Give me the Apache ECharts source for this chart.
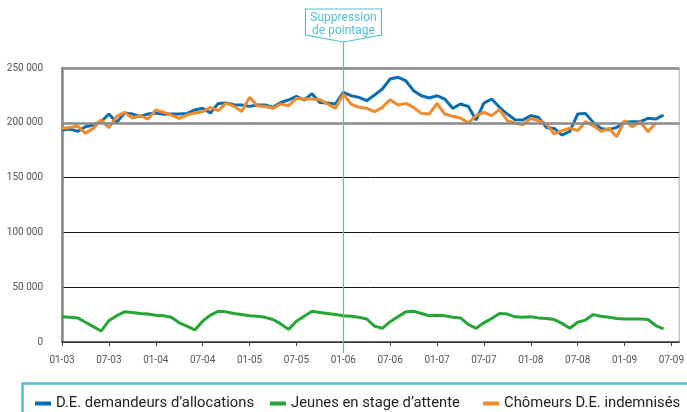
<!DOCTYPE html>
<html><head><meta charset="utf-8">
<script src="https://cdn.jsdelivr.net/npm/echarts@6/dist/echarts.min.js"></script>
<style>html,body{margin:0;padding:0;background:#fff}#c{width:687px;height:412px}</style>
</head><body><div id="c"></div>
<script>
// Months 01-03 .. 08-09 (MM-YY)
const months = [];
for (let y = 3; y <= 9; y++) {
  for (let m = 1; m <= 12; m++) {
    if (y === 9 && m > 8) break;
    months.push(String(m).padStart(2, '0') + '-0' + y);
  }
}
const seriesNames = ['D.E. demandeurs d’allocations', 'Jeunes en stage d’attente', 'Chômeurs D.E. indemnisés'];
const demandeurs = [
  193400,194300,192200,196400,198000,201000,208000,200400,208900,208000,205900,208000,
  208900,207700,208000,208000,208600,211700,213200,208900,217700,218000,216500,216200,
  215000,216200,216200,214100,218600,220800,224100,220800,226600,218600,218000,217100,
  227800,224700,223200,220200,225300,230800,240000,241500,238400,229300,224700,222600,
  224700,221700,213200,217100,215000,202500,218000,221700,214100,208000,202800,202500,
  206500,205000,195800,194900,188800,192200,208000,208600,200400,194900,193700,195800,
  200400,201000,201000,204100,203400,207100
];
const jeunes = [
  23000,22500,22000,18000,14000,10000,19500,24000,27500,27000,26000,25500,
  24500,24000,22500,17500,14500,11000,19000,24500,28000,27500,26000,25000,
  24000,23500,22500,20500,16500,11500,19000,23500,28000,27000,26000,25000,
  24000,23500,22500,21000,14500,12500,18500,23000,27500,28000,26000,24000,
  24500,24000,22500,22000,16000,12500,17500,21500,26000,25500,23000,22500,
  23000,22000,21500,20500,17000,12500,18000,20000,25000,23500,22500,21500,
  21000,21000,21000,20500,15000,12000
];
const chomeurs = [
  194900,195800,197100,190400,194900,202800,195500,205900,209500,204400,206500,203400,
  211700,209500,207100,204100,207100,208900,210100,214100,211000,218000,215000,210400,
  223200,215600,214800,213200,217100,215600,222300,221700,221700,221100,217100,213200,
  226200,217100,214100,213200,210100,214100,221100,216200,217700,214100,208600,208000,
  217700,208000,205900,204400,199800,206500,209500,206500,212000,201900,199800,198300,
  204100,201900,198900,189800,192800,195200,192800,201000,197400,192200,194900,187300,
  201900,196500,201000,191900,199800
];
const yTicks = [0, 50000, 100000, 150000, 200000, 250000];
const eventMonth = '01-06';
const eventLabel = 'Suppression\nde pointage';

const colors = ['#0a6db3', '#25a534', '#f08a2b'];
const cyan = '#4fbfd4';
const FONT = "Roboto, 'Liberation Sans', sans-serif";
const fmt = v => String(v).replace(/\B(?=(\d{3})+(?!\d))/g, ' ');

const chart = echarts.init(document.getElementById('c'), null, {renderer: 'canvas'});
const legendPos = [35, 270, 483];
chart.setOption({
  animation: false,
  textStyle: {fontFamily: FONT},
  grid: {left: 62, right: 4, top: 68, bottom: 70, show: true, borderColor: '#a8a8a8', borderWidth: 1},
  legend: seriesNames.map((n, i) => ({
    data: [n], left: legendPos[i], top: 396, itemWidth: 16, itemHeight: 4, icon: 'rect',
    itemGap: 5, textStyle: {fontFamily: FONT, fontSize: 14.8, color: '#222'},
    padding: 0
  })),
  xAxis: {
    type: 'category', data: months, boundaryGap: false,
    axisLine: {lineStyle: {color: '#444', width: 1.5}},
    axisTick: {interval: 5, length: 4, lineStyle: {color: '#444', width: 1}},
    axisLabel: {interval: 5, color: '#555', fontSize: 10, margin: 13, fontFamily: FONT},
    splitLine: {show: false}
  },
  yAxis: {
    type: 'value', min: yTicks[0], max: yTicks[yTicks.length - 1], interval: yTicks[1] - yTicks[0],
    axisLine: {show: true, lineStyle: {color: '#858585', width: 2.5}},
    axisTick: {show: false},
    axisLabel: {color: '#555', fontSize: 10, margin: 19, formatter: fmt, fontFamily: FONT},
    splitLine: {lineStyle: {color: '#111', width: 1}}
  },
  series: [
    {name: '_ref', type: 'line', data: [], z: 1, silent: true,
     markLine: {symbol: 'none', silent: true, label: {show: false},
       lineStyle: {color: '#8a8a8a', width: 2.5, type: 'solid'},
       data: [{yAxis: 200000}, {yAxis: 250000}]}},
    {name: seriesNames[0], type: 'line', data: demandeurs, showSymbol: false, z: 3,
     lineStyle: {color: colors[0], width: 3}, itemStyle: {color: colors[0]}},
    {name: seriesNames[1], type: 'line', data: jeunes, showSymbol: false, z: 3,
     lineStyle: {color: colors[1], width: 3}, itemStyle: {color: colors[1]}},
    {name: seriesNames[2], type: 'line', data: chomeurs, showSymbol: false, z: 4,
     lineStyle: {color: colors[2], width: 3}, itemStyle: {color: colors[2]}}
  ]
});

const ex = Math.round(chart.convertToPixel({xAxisIndex: 0}, eventMonth)) + 0.5;
chart.setOption({
  graphic: [
    {type: 'line', shape: {x1: ex, y1: 42, x2: ex, y2: 353}, style: {stroke: cyan, lineWidth: 1.2}, z: 10},
    {type: 'polygon', shape: {points: [[ex - 38, 9], [ex + 38, 9], [ex + 38, 35], [ex, 42], [ex - 38, 35]]},
     style: {fill: '#fff', stroke: cyan, lineWidth: 1.2}, z: 10},
    {type: 'text', x: ex, y: 12, z: 11,
     style: {text: eventLabel, fill: cyan, fontSize: 12, lineHeight: 12.5, align: 'center', verticalAlign: 'top', fontFamily: FONT}},
    {type: 'rect', shape: {x: 22.5, y: 383.5, width: 700, height: 60},
     style: {fill: 'none', stroke: cyan, lineWidth: 2.5}, z: 0}
  ]
});
</script></body></html>
